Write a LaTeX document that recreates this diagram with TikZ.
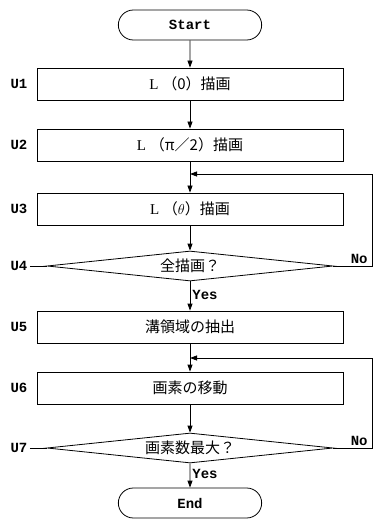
\documentclass[tikz,border=0pt]{standalone}
\usepackage{fontspec}
\setmainfont{Liberation Serif}
\setmonofont{Liberation Mono}
\newfontfamily\cjk{Noto Sans CJK JP}
\usetikzlibrary{shapes.geometric,shapes.misc,arrows.meta}

\begin{document}
\begin{tikzpicture}[x=1pt, y=-1pt, >={Triangle[length=7pt,width=5pt]}, line width=0.8pt,
    term/.style={rounded rectangle, draw, minimum width=150pt, minimum height=30pt,
      font=\fontsize{14}{16}\selectfont\ttfamily\bfseries},
    proc/.style={rectangle, draw, minimum width=306pt, minimum height=32pt,
      font=\fontsize{15}{18}\selectfont},
    test/.style={diamond, draw, aspect=9.5, minimum width=286pt, minimum height=30pt,
      inner sep=0pt, font=\fontsize{15}{18}\selectfont\cjk},
    tag/.style={font=\fontsize{14}{16}\selectfont\ttfamily\bfseries, inner sep=2pt}]
  \useasboundingbox (0,0) rectangle (374,529);
  % flow
  \node[term] (start) at (190,25) {Start};
  \node[proc] (u1) at (190,84) {L\ {\cjk （0）描画}};
  \node[proc] (u2) at (190,145) {L\ {\cjk （π／2）描画}};
  \node[proc] (u3) at (190,209) {L\ {\cjk （}$\theta${\cjk ）描画}};
  \node[test] (d4) at (190,266) {全描画？};
  \node[proc] (u5) at (190,327) {\cjk 溝領域の抽出};
  \node[proc] (u6) at (190,388) {\cjk 画素の移動};
  \node[test] (d7) at (190,448) {画素数最大？};
  \node[term] (end) at (190,503) {End};
  % step tags
  \node[tag] (t1) at (19,84) {U1};
  \node[tag] (t2) at (19,145) {U2};
  \node[tag] (t3) at (19,209) {U3};
  \node[tag] (t4) at (19,266) {U4};
  \node[tag] (t5) at (19,327) {U5};
  \node[tag] (t6) at (19,388) {U6};
  \node[tag] (t7) at (19,448) {U7};
  \draw (t4) -- (d4.west);
  \draw (t7) -- (d7.west);
  % joins and right rim
  \coordinate (j3) at (190,174);
  \coordinate (j6) at (190,358);
  \coordinate (rim) at (372,0);
  \draw[->] (start) -- (u1);
  \draw[->] (u1) -- (u2);
  \draw[->] (u2) -- (u3);
  \draw[->] (u3) -- (d4);
  \draw[->] (d4) -- node[tag, right, pos=0.45] {Yes} (u5);
  \draw[->] (u5) -- (u6);
  \draw[->] (u6) -- (d7);
  \draw[->] (d7) -- node[tag, right, pos=0.45] {Yes} (end);
  % loops
  \draw[->] (d4.east) -- (d4.east -| rim) |- (j3);
  \draw[->] (d7.east) -- (d7.east -| rim) |- (j6);
  \node[tag, anchor=south east] (no4) at (370,266) {No};
  \node[tag, anchor=south east] (no7) at (370,448) {No};
\end{tikzpicture}
\end{document}
